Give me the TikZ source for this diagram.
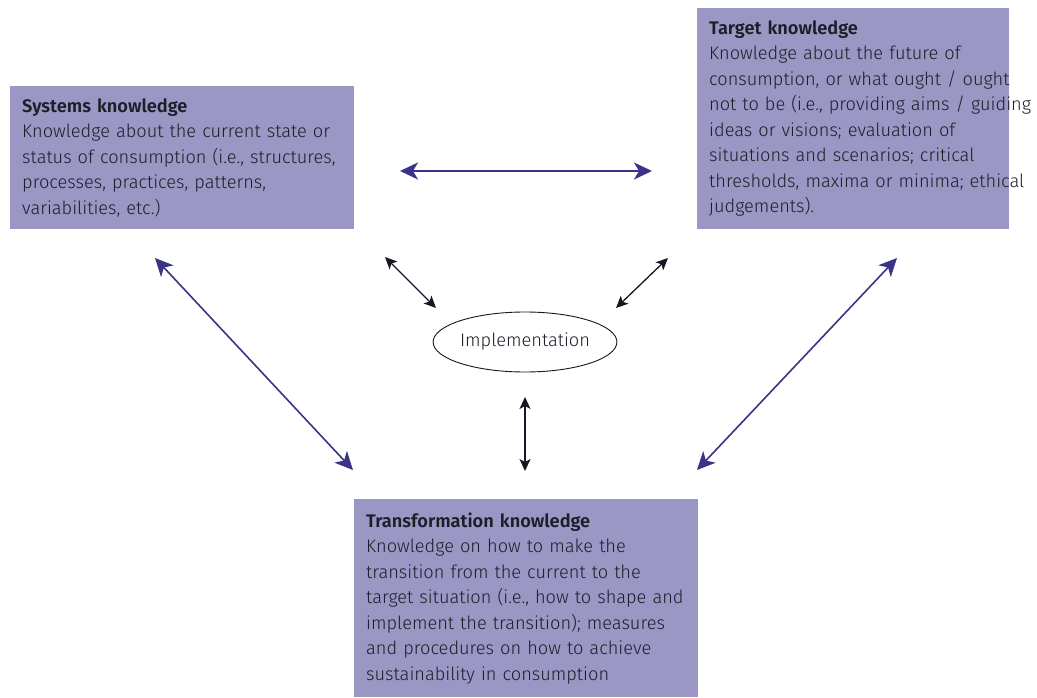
\documentclass[tikz,border=0pt]{standalone}
\usepackage{fontspec}
\setmainfont{Fira Sans Light}[BoldFont={Fira Sans SemiBold}]
\usetikzlibrary{shapes.geometric,arrows.meta}
\definecolor{boxfill}{HTML}{9B97C4}
\definecolor{linkblue}{HTML}{3A3388}
\definecolor{linkdark}{HTML}{141826}
\definecolor{textdark}{HTML}{1E1E2A}

\begin{document}
\begin{tikzpicture}[
  % one unit is one pixel of the reference, y grows downward
  x=1pt,
  y=-1pt,
  font=\fontsize{18.2}{25.5}\selectfont,
  knowbox/.style={fill=boxfill, text=textdark, anchor=north west, align=left,
    inner xsep=12pt, inner ysep=5pt},
  bluelink/.style={linkblue, line width=1.6pt,
    {Stealth[length=18pt, width=17pt, inset=5pt]}-{Stealth[length=18pt, width=17pt, inset=5pt]}},
  darklink/.style={linkdark, line width=1.3pt,
    {Stealth[length=12pt, width=11pt, inset=3pt]}-{Stealth[length=12pt, width=11pt, inset=3pt]}}
]
\useasboundingbox (0,0) rectangle (1037,698);

% 1) The three knowledge boxes
\node[knowbox, minimum width=344pt, minimum height=143pt, text width=320pt]
  (sys) at (10,86) {\textbf{Systems knowledge}\\
  Knowledge about the current state or\\
  \mbox{status of consumption (i.e., structures,}\\
  processes, practices, patterns,\\
  variabilities, etc.)};

\node[knowbox, minimum width=312pt, minimum height=221pt, text width=288pt]
  (target) at (697,8) {\textbf{Target knowledge}\\
  Knowledge about the future of\\
  \mbox{consumption, or what ought / ought}\\
  \mbox{not to be (i.e., providing aims / guiding}\\
  ideas or visions; evaluation of\\
  situations and scenarios; critical\\
  \mbox{thresholds, maxima or minima; ethical}\\
  judgements).};

\node[knowbox, minimum width=344pt, minimum height=198pt, text width=320pt]
  (trans) at (354,499) {\textbf{Transformation knowledge}\\
  Knowledge on how to make the\\
  transition from the current to the\\
  \mbox{target situation (i.e., how to shape and}\\
  implement the transition); measures\\
  and procedures on how to achieve\\
  sustainability in consumption};

% 2) Implementation in the middle
\node[draw=linkdark, line width=0.9pt, ellipse, minimum width=180pt, minimum height=60pt,
  inner sep=0pt, text=textdark] (impl) at (525,342) {Implementation};

% 3) Free ends of the connectors
\coordinate (sysR)    at (400,171);
\coordinate (targetL) at (652,171);
\coordinate (sysB)    at (155,258);
\coordinate (transL)  at (353,470);
\coordinate (targetB) at (897,258);
\coordinate (transR)  at (697,470);
\coordinate (implNW)  at (436,308);
\coordinate (sysIn)   at (385,257);
\coordinate (implNE)  at (616,308);
\coordinate (targetIn) at (668,258);
\coordinate (implS)   at (525,397);
\coordinate (transT)  at (525,471);

% 4) Blue links between the boxes
\draw[bluelink] (sysR) -- (targetL);
\draw[bluelink] (sysB) -- (transL);
\draw[bluelink] (targetB) -- (transR);

% 5) Dark links to the implementation
\draw[darklink] (sysIn) -- (implNW);
\draw[darklink] (targetIn) -- (implNE);
\draw[darklink] (implS) -- (transT);

\end{tikzpicture}
\end{document}
